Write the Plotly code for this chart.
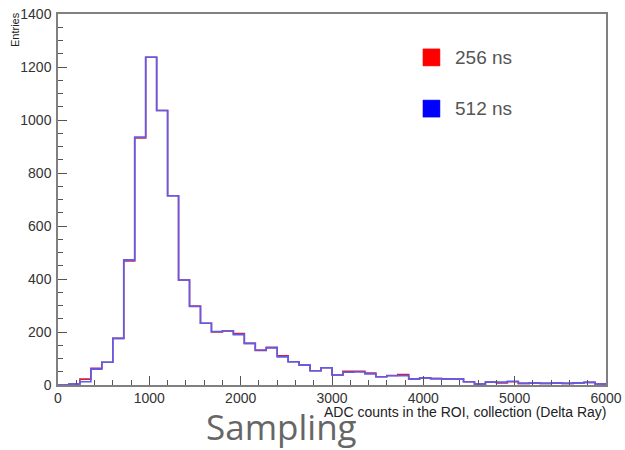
import numpy as np
import plotly.graph_objects as go

# ---- data (bin width 120, range 0..6000) ----
bin_width = 120
bin_edges = list(range(0, 6001, bin_width))
entries_512 = [0, 4, 12, 60, 86, 176, 472, 936, 1237, 1036,
               714, 396, 296, 233, 202, 204, 190, 157, 132, 140,
               106, 88, 75, 54, 65, 38, 48, 49, 42, 31,
               35, 35, 23, 27, 24, 23, 23, 12, 4, 11,
               11, 14, 6, 7, 6, 7, 6, 8, 10, 4]
entries_256 = [0, 4, 22, 63, 86, 176, 468, 932, 1237, 1036,
               714, 396, 298, 233, 200, 204, 194, 157, 130, 142,
               110, 88, 75, 54, 65, 38, 52, 52, 45, 31,
               36, 39, 23, 27, 24, 23, 23, 12, 4, 11,
               8, 12, 6, 7, 6, 7, 6, 8, 10, 4]
series_names = ["256 ns", "512 ns"]
x_title = "ADC counts in the ROI, collection (Delta Ray)"
y_title = "Entries"
caption = "Sampling"


def step(vals):
    return bin_edges, list(vals) + [vals[-1]]


fig = go.Figure()
xs, ys = step(entries_256)
fig.add_trace(go.Scatter(x=xs, y=ys, mode="lines", line_shape="hv",
                         line=dict(color="#d0203a", width=1.6),
                         name=series_names[0], showlegend=False))
xs, ys = step(entries_512)
fig.add_trace(go.Scatter(x=xs, y=ys, mode="lines", line_shape="hv",
                         line=dict(color="#5c5cee", width=1.6),
                         name=series_names[1], showlegend=False))

axis_common = dict(showline=True, linecolor="#808080", linewidth=1.5, mirror=True,
                   ticks="inside", tickcolor="#555555", tickwidth=1,
                   showgrid=False, zeroline=False, automargin=False)

fig.update_xaxes(range=[0, 6000], tickvals=[0, 1000, 2000, 3000, 4000, 5000, 6000],
                 ticklen=9, minor=dict(dtick=200, ticklen=5, ticks="inside", tickcolor="#555555"),
                 ticklabelstandoff=-1,
                 tickfont=dict(family="Liberation Sans", size=14, color="#333333"),
                 **axis_common)
fig.update_yaxes(range=[0, 1400], tickvals=[0, 200, 400, 600, 800, 1000, 1200, 1400],
                 ticklen=9, minor=dict(dtick=50, ticklen=5, ticks="inside", tickcolor="#555555"),
                 ticklabelstandoff=2,
                 tickfont=dict(family="Liberation Sans", size=14, color="#333333"),
                 **axis_common)

# legend (drawn manually to match spacing)
legend_colors = ["#ff0000", "#0000ff"]
legend_y = [0.906, 0.768]
shapes = []
annotations = []
for name, col, yy in zip(series_names, legend_colors, legend_y):
    shapes.append(dict(type="rect", xref="paper", yref="paper",
                       x0=0.666, x1=0.697, y0=yy - 0.046, y1=yy,
                       fillcolor=col, line=dict(color=col, width=0.5)))
    annotations.append(dict(xref="paper", yref="paper", x=0.72, y=yy - 0.023,
                            text=name, showarrow=False, xanchor="left", yanchor="middle",
                            font=dict(family="Liberation Sans", size=19, color="#555555")))

annotations.append(dict(xref="paper", yref="paper", x=1.003, y=-0.074, text=x_title,
                        showarrow=False, xanchor="right", yanchor="middle",
                        font=dict(family="Liberation Sans", size=14, color="#222222")))
annotations.append(dict(xref="paper", yref="paper", x=-0.078, y=1.01, text=y_title,
                        showarrow=False, xanchor="center", yanchor="top", textangle=-90,
                        font=dict(family="Liberation Sans", size=11, color="#222222")))
annotations.append(dict(xref="paper", yref="paper", x=0.408, y=-0.113, text=caption,
                        showarrow=False, xanchor="center", yanchor="middle",
                        font=dict(family="Open Sans", size=35, color="#666666")))

fig.update_layout(width=625, height=450, margin=dict(l=58, r=19, t=14, b=65, autoexpand=False),
                  plot_bgcolor="white", paper_bgcolor="white",
                  shapes=shapes, annotations=annotations, showlegend=False)

fig.write_html("out.html")
